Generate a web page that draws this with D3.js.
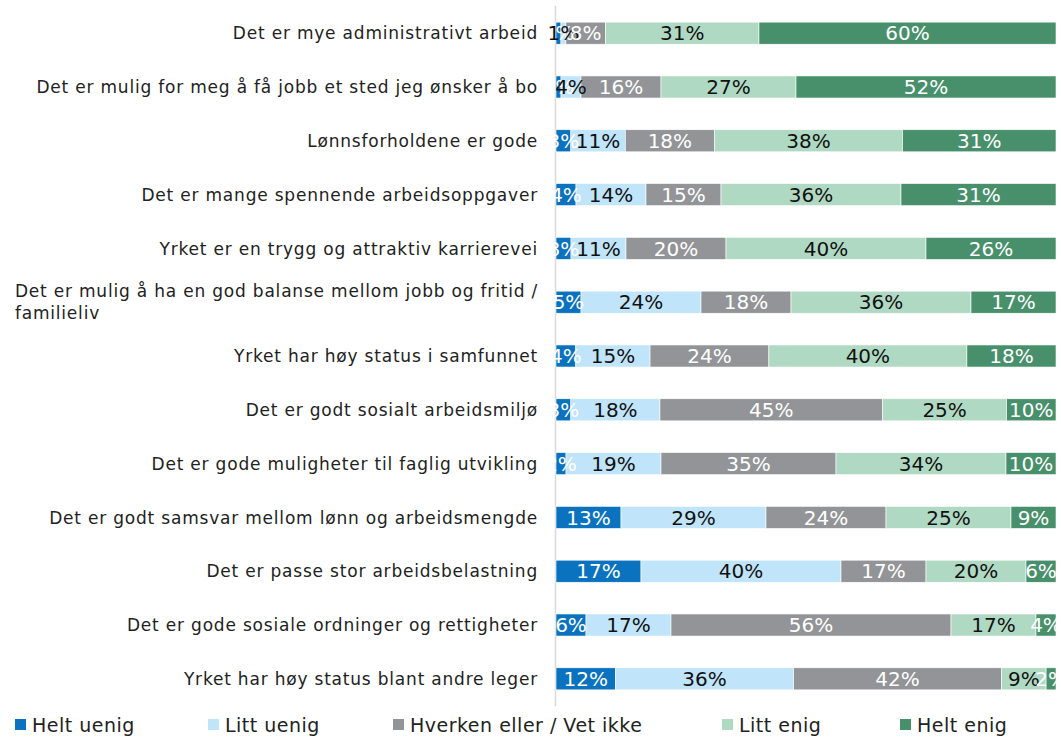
<!DOCTYPE html>
<html>
<head>
<meta charset="utf-8">
<script src="https://cdn.jsdelivr.net/npm/d3@7"></script>
<style>
  body { margin: 0; background: #fff; }
  text { font-family: "DejaVu Sans", sans-serif; }
</style>
</head>
<body>
<div id="chart"></div>
<script>
const WIDTH = 1061;
const HEIGHT = 738;

const categories = [
  'Det er mye administrativt arbeid',
  'Det er mulig for meg å få jobb et sted jeg ønsker å bo',
  'Lønnsforholdene er gode',
  'Det er mange spennende arbeidsoppgaver',
  'Yrket er en trygg og attraktiv karrierevei',
  'Det er mulig å ha en god balanse mellom jobb og fritid / familieliv',
  'Yrket har høy status i samfunnet',
  'Det er godt sosialt arbeidsmiljø',
  'Det er gode muligheter til faglig utvikling',
  'Det er godt samsvar mellom lønn og arbeidsmengde',
  'Det er passe stor arbeidsbelastning',
  'Det er gode sosiale ordninger og rettigheter',
  'Yrket har høy status blant andre leger'
];

const seriesNames = ['Helt uenig', 'Litt uenig', 'Hverken eller / Vet ikke', 'Litt enig', 'Helt enig'];

const heltUenig = [1, 1, 3, 4, 3, 5, 4, 3, 2, 13, 17, 6, 12];
const littUenig = [1, 4, 11, 14, 11, 24, 15, 18, 19, 29, 40, 17, 36];
const hverken   = [8, 16, 18, 15, 20, 18, 24, 45, 35, 24, 17, 56, 42];
const littEnig  = [31, 27, 38, 36, 40, 36, 40, 25, 34, 25, 20, 17, 9];
const heltEnig  = [60, 52, 31, 31, 26, 17, 18, 10, 10, 9, 6, 4, 2];

const colors = ['#0a72bf', '#c0e4fa', '#939497', '#b0d9c3', '#47906b'];
const labelColors = ['#fff', '#111', '#fff', '#111', '#fff'];

const seriesValues = [heltUenig, littUenig, hverken, littEnig, heltEnig];

const rows = categories.map((c, i) => {
  const vals = seriesValues.map(s => s[i]);
  const total = d3.sum(vals);
  let acc = 0;
  return {
    name: c,
    segs: vals.map((v, k) => {
      const s = { key: k, value: v, x0: acc / total, x1: (acc + v) / total };
      acc += v;
      return s;
    })
  };
});

const plot = { left: 556, right: 1056, top: 6, bottom: 706 };

const svg = d3.select('#chart')
  .append('svg')
    .attr('width', WIDTH)
    .attr('height', HEIGHT);

const x = d3.scaleLinear().domain([0, 1]).range([plot.left, plot.right]);
const y = d3.scaleBand().domain(categories).range([plot.top, plot.bottom]).paddingInner(0.59).paddingOuter(0.3);

// vertical axis line
svg.append('line')
  .attr('x1', plot.left - 0.5).attr('x2', plot.left - 0.5)
  .attr('y1', plot.top).attr('y2', plot.bottom)
  .attr('stroke', '#d9d9d9').attr('stroke-width', 1.5);

const rowG = svg.selectAll('.row')
  .data(rows)
  .enter()
  .append('g')
    .attr('class', 'row')
    .attr('transform', d => `translate(0, ${y(d.name)})`);

rowG.selectAll('rect')
  .data(d => d.segs)
  .enter()
  .append('rect')
    .attr('x', s => x(s.x0))
    .attr('width', s => x(s.x1) - x(s.x0))
    .attr('y', 0)
    .attr('height', y.bandwidth())
    .attr('fill', s => colors[s.key])
    .attr('stroke', '#fff')
    .attr('stroke-width', 0.6);

rowG.selectAll('text.val')
  .data(d => d.segs)
  .enter()
  .append('text')
    .attr('class', 'val')
    .attr('x', s => (x(s.x0) + x(s.x1)) / 2)
    .attr('y', y.bandwidth() / 2)
    .attr('dy', '0.36em')
    .attr('text-anchor', 'middle')
    .attr('font-size', 20)
    .attr('fill', s => labelColors[s.key])
    .text(s => s.value + '%');

// category labels
const LABEL_X = 538;
const catG = svg.append('g')
  .attr('font-size', 17)
  .attr('letter-spacing', 0.8)
  .attr('fill', '#222');

catG.selectAll('text')
  .data(categories)
  .enter()
  .append('text')
    .attr('x', LABEL_X)
    .attr('y', c => y(c) + y.bandwidth() / 2)
    .attr('dy', '0.36em')
    .attr('text-anchor', 'end')
    .each(function(c) {
      const t = d3.select(this);
      const cut = c.indexOf(' familieliv');
      if (cut > 0) {
        t.text(c.slice(0, cut));
        t.attr('dy', '-0.28em');
        const w = this.getComputedTextLength();
        catG.append('text')
          .attr('x', LABEL_X - w)
          .attr('y', y(c) + y.bandwidth() / 2)
          .attr('dy', '1.0em')
          .text(c.slice(cut + 1));
      } else {
        t.text(c);
      }
    });

// legend
const legendX = [15, 208, 393, 722, 900];
const legend = svg.append('g')
  .selectAll('g')
  .data(seriesNames)
  .enter()
  .append('g')
    .attr('transform', (d, i) => `translate(${legendX[i]}, 725)`);

legend.append('rect')
  .attr('x', 0).attr('y', -6)
  .attr('width', 11).attr('height', 11)
  .attr('fill', (d, i) => colors[i]);

legend.append('text')
  .attr('x', 17)
  .attr('dy', '0.35em')
  .attr('font-size', 19)
  .attr('letter-spacing', 0.5)
  .attr('fill', '#222')
  .text(d => d);
</script>
</body>
</html>
